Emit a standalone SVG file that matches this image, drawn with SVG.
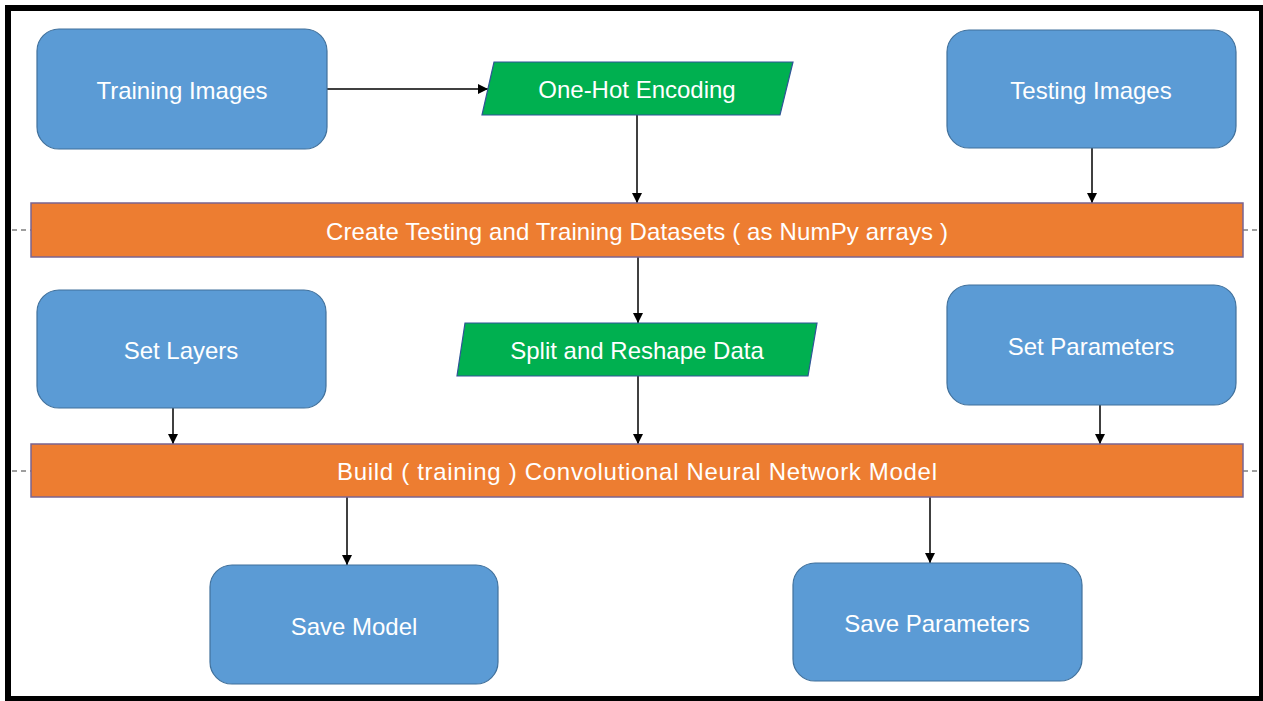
<svg xmlns="http://www.w3.org/2000/svg" width="1263" height="701" viewBox="0 0 1263 701">
<style>
.box{fill:#5b9bd5;stroke:#41719c;stroke-width:1.2}
.io{fill:#00b050;stroke:#2f5597;stroke-width:1.2}
.bar{fill:#ed7d31;stroke:#7a6490;stroke-width:1.5}
.lbl{font-family:"Liberation Sans",Arial,sans-serif;font-size:24px;fill:#ffffff;text-anchor:middle;dominant-baseline:central}
.edge{stroke:#000;stroke-width:1.5;fill:none;marker-end:url(#ah)}
.dash{stroke:#7f7f7f;stroke-width:1.5;stroke-dasharray:5 4;fill:none}
</style>
<defs>
<marker id="ah" viewBox="0 0 10 10" refX="10" refY="5" markerWidth="10" markerHeight="10" orient="auto" markerUnits="userSpaceOnUse">
<path d="M0,0 L10,5 L0,10 z" fill="#000"/>
</marker>
</defs>
<rect x="0" y="0" width="1263" height="701" fill="#fff"/>
<rect x="8" y="8" width="1254" height="691" fill="none" stroke="#000" stroke-width="6"/>
<g id="dashes">
<path class="dash" d="M12,230 H31 M1243,230 H1259 M12,471 H31 M1243,471 H1259"/>
</g>
<g id="connectors">
<path class="edge" d="M327,89 H488"/>
<path class="edge" d="M637,115 V203"/>
<path class="edge" d="M1092,148 V203"/>
<path class="edge" d="M638,257 V323"/>
<path class="edge" d="M638,376 V444"/>
<path class="edge" d="M173,408 V444"/>
<path class="edge" d="M1100,405 V444"/>
<path class="edge" d="M347,497 V565"/>
<path class="edge" d="M930,497 V563"/>
</g>
<g id="training-images">
<rect class="box" x="37" y="29" width="290" height="120" rx="22"/>
<text class="lbl" x="182" y="90">Training Images</text>
</g>
<g id="one-hot">
<polygon class="io" points="494,62 793,62 780,115 482,115"/>
<text class="lbl" x="637" y="89">One-Hot Encoding</text>
</g>
<g id="testing-images">
<rect class="box" x="947" y="30" width="289" height="118" rx="22"/>
<text class="lbl" x="1091" y="90">Testing Images</text>
</g>
<g id="create-datasets">
<rect class="bar" x="31" y="203" width="1212" height="54"/>
<text class="lbl" x="637" y="231" textLength="622" lengthAdjust="spacing">Create Testing and Training Datasets ( as NumPy arrays )</text>
</g>
<g id="set-layers">
<rect class="box" x="37" y="290" width="289" height="118" rx="22"/>
<text class="lbl" x="181" y="350">Set Layers</text>
</g>
<g id="split-reshape">
<polygon class="io" points="465,323 817,323 808,376 457,376"/>
<text class="lbl" x="637" y="350">Split and Reshape Data</text>
</g>
<g id="set-parameters">
<rect class="box" x="947" y="285" width="289" height="120" rx="22"/>
<text class="lbl" x="1091" y="346">Set Parameters</text>
</g>
<g id="build-model">
<rect class="bar" x="31" y="444" width="1212" height="53"/>
<text class="lbl" x="637" y="471" textLength="600" lengthAdjust="spacing">Build ( training ) Convolutional Neural Network Model</text>
</g>
<g id="save-model">
<rect class="box" x="210" y="565" width="288" height="119" rx="22"/>
<text class="lbl" x="354" y="626">Save Model</text>
</g>
<g id="save-parameters">
<rect class="box" x="793" y="563" width="289" height="118" rx="22"/>
<text class="lbl" x="937" y="623">Save Parameters</text>
</g>
</svg>
